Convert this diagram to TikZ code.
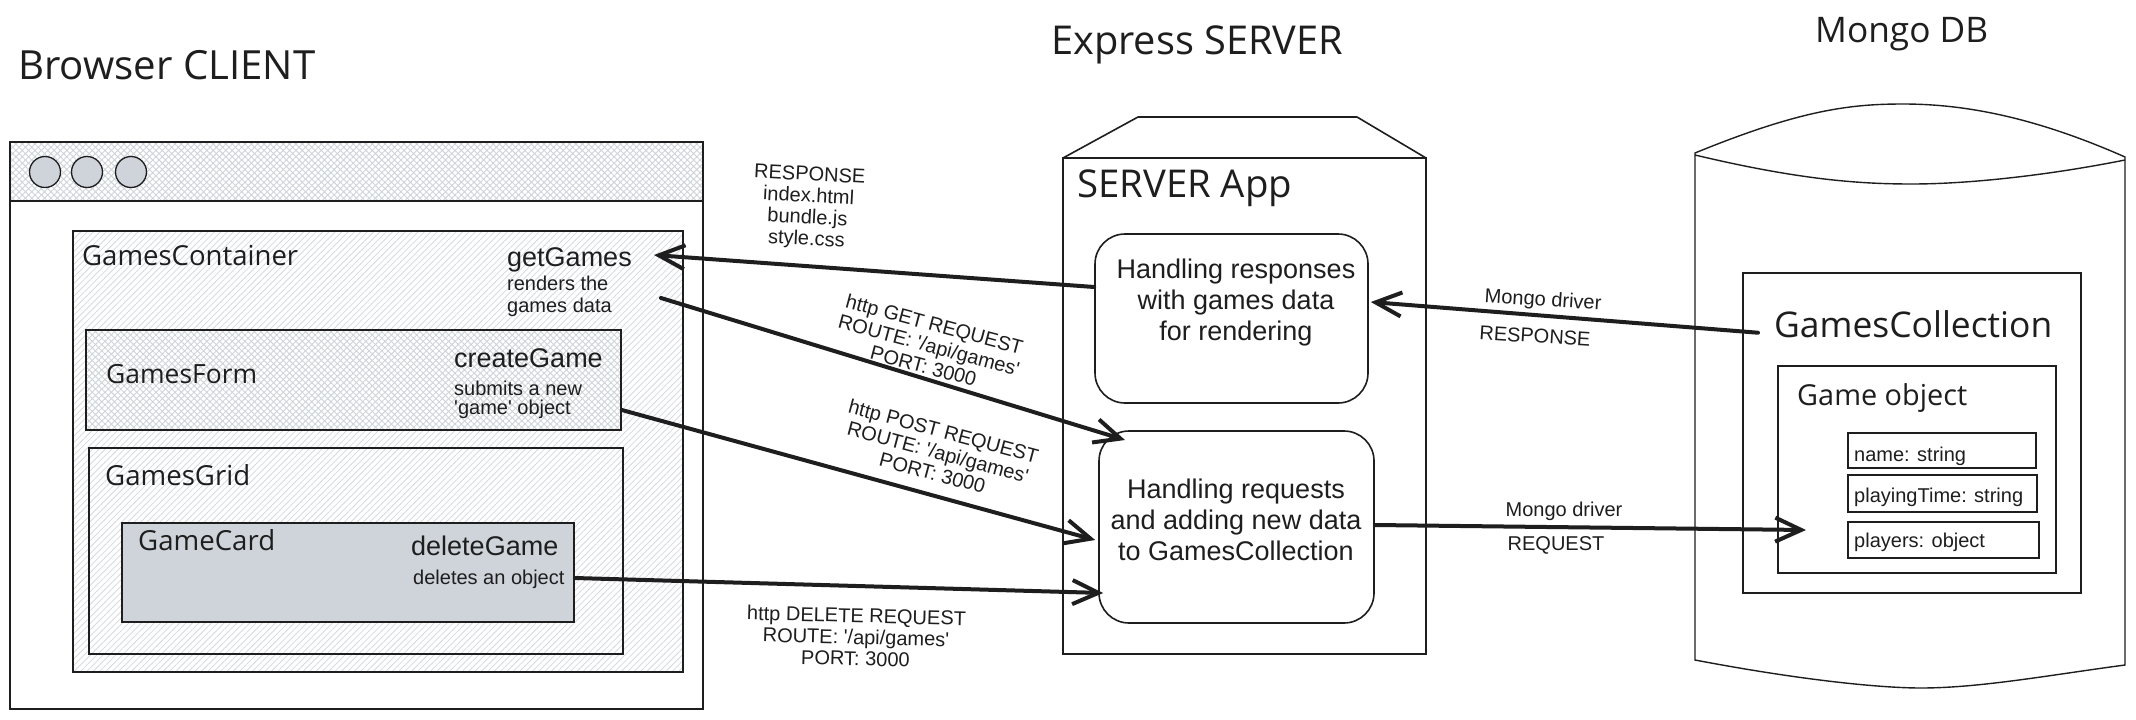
\documentclass[tikz,border=0pt]{standalone}
\usepackage{fontspec}
\setmainfont{Liberation Sans}
\newfontfamily\hwfont{Open Sans}
\usetikzlibrary{arrows.meta,patterns.meta}
\definecolor{ink}{HTML}{1E1E1E}
\definecolor{hatchc}{HTML}{CED4DA}
\definecolor{hatchl}{HTML}{D6DADF}
\definecolor{cardc}{HTML}{CED4DA}
\newcommand{\hw}[2]{\resizebox{#1pt}{!}{\hwfont #2}}
\newcommand{\fsz}[1]{\fontsize{#1}{#1}\selectfont}
\newcommand{\sq}{\XeTeXglyph\the\XeTeXcharglyph"0027\relax}
\begin{document}
\begin{tikzpicture}[x=1pt,y=-1pt,
  every node/.style={text=ink},
  rectbox/.style 2 args={draw=ink, line width=1.6pt, inner sep=0pt, minimum width=#1pt, minimum height=#2pt},
  crosshatch/.style={preaction={fill=white}, pattern={Hatch[angle=45,distance=4.5pt,line width=0.9pt]}, pattern color=hatchc},
  singlehatch/.style={preaction={fill=white}, pattern={Lines[angle=45,distance=4.5pt,line width=0.8pt]}, pattern color=hatchl},
  dot/.style={circle, draw=ink, line width=1.3pt, fill=hatchc, minimum size=31pt, inner sep=0pt},
  hwtext/.style={anchor=base west, inner sep=0pt},
  fn/.style={anchor=base west, inner sep=0pt, font=\fsz{27}},
  desc/.style={anchor=base west, inner sep=0pt, font=\fsz{20}},
  boxtext/.style={align=center, inner sep=0pt, font=\fontsize{27}{31}\selectfont},
  blocklabel/.style={align=center, inner sep=0pt, font=\fontsize{20}{21.5}\selectfont},
  smalllabel/.style={inner sep=0pt, font=\fsz{20}},
  dbline/.style={draw=ink, line width=1.4pt},
  conn/.style={draw=ink, line width=4pt, line cap=round, -{Straight Barb[length=26pt,width=24pt]}}
]
\fill[white] (0,0) rectangle (2136,720);
\useasboundingbox (0,0) rectangle (2136,720);

% ---------- CLIENT ----------
\node[hwtext] (tClient) at (18,79) {\hw{297}{Browser CLIENT}};
\node[rectbox={693}{567}] (browser) at (356.5,425.5) {};
\node[rectbox={693}{59}, crosshatch] (titlebar) at (356.5,171.5) {};
\node[dot] (dotA) at (45,172) {};
\node[dot] (dotB) at (87,172) {};
\node[dot] (dotC) at (131,172) {};
\node[rectbox={610}{441}, singlehatch] (container) at (378,451.5) {};
\node[hwtext] (lContainer) at (82,265) {\hw{216}{GamesContainer}};
\node[fn] (getGames) at (507,266) {getGames};
\node[desc] (getDescA) at (507,290) {renders the};
\node[desc] (getDescB) at (507,312) {games data};
\node[rectbox={535}{100}, crosshatch] (form) at (353.5,380) {};
\node[hwtext] (lForm) at (106,383) {\hw{151}{GamesForm}};
\node[fn] (createGame) at (454,367) {createGame};
\node[desc] (createDescA) at (454,395) {submits a new};
\node[desc] (createDescB) at (454,414) {\sq game\sq{} object};
\node[rectbox={534}{206}, singlehatch] (grid) at (356,551) {};
\node[hwtext] (lGrid) at (105,485) {\hw{145}{GamesGrid}};
\node[rectbox={452}{99}, fill=cardc] (card) at (348,572.5) {};
\node[hwtext] (lCard) at (138,550) {\hw{137}{GameCard}};
\node[fn] (deleteGame) at (411,555) {deleteGame};
\node[desc] (deleteDesc) at (413,584) {deletes an object};

% ---------- SERVER ----------
\node[hwtext] (tServer) at (1051,54) {\hw{292}{Express SERVER}};
\draw[draw=ink, line width=1.6pt, line join=round] (1063,158) -- (1138,117) -- (1357,117) -- (1426,158);
\node[rectbox={363}{496}] (server) at (1244.5,406) {};
\node[hwtext] (lServer) at (1077,197) {\hw{215}{SERVER App}};
\node[rectbox={273}{169}, rounded corners=30pt] (resp) at (1231.5,318.5) {};
\node[boxtext] (respText) at (1236,303) {Handling responses\\with games data\\for rendering};
\node[rectbox={275}{192}, rounded corners=30pt] (req) at (1236.5,527) {};
\node[boxtext] (reqText) at (1236,520) {Handling requests\\and adding new data\\to GamesCollection};

% ---------- DATABASE ----------
\node[hwtext] (tDB) at (1815,42) {\hw{173}{Mongo DB}};
\draw[dbline] (1695,153) .. controls (1800,110) and (1850,104) .. (1903,104)
  .. controls (1960,104) and (2030,115) .. (2125,157) -- (2125,665)
  .. controls (2050,675) and (1980,688) .. (1921,688)
  .. controls (1880,688) and (1800,680) .. (1695,660) -- cycle;
\draw[dbline] (1695,155) .. controls (1800,180) and (1860,184) .. (1912,184)
  .. controls (1970,184) and (2050,175) .. (2125,160);
\node[rectbox={338}{320}] (collection) at (1912,433) {};
\node[hwtext] (lCollection) at (1774,337) {\hw{278}{GamesCollection}};
\node[rectbox={278}{207}] (gameobj) at (1917,469.5) {};
\node[hwtext] (lGameObj) at (1797,405) {\hw{170}{Game object}};
\node[rectbox={188}{35}, line width=1.3pt] (fName) at (1942,450.5) {};
\node[rectbox={189}{37}, line width=1.3pt] (fTime) at (1942.5,493.5) {};
\node[rectbox={191}{36}, line width=1.3pt] (fPlayers) at (1943.5,540) {};
\node[desc] (tName) at (1854,461) {name: string};
\node[desc] (tTime) at (1854,502) {playingTime: string};
\node[desc] (tPlayers) at (1854,547) {players: object};

% ---------- CONNECTORS ----------
\coordinate (getTip) at (654,255);
\coordinate (getStart) at (661,298);
\coordinate (getEnd) at (1125,440);
\coordinate (reqTip) at (1806,530);
\draw[conn] ([yshift=31.5pt]resp.west) -- (getTip);
\draw[conn] (getStart) -- (getEnd);
\draw[conn] ([yshift=-30pt]form.east) -- ([xshift=-3pt,yshift=-13pt]req.west);
\draw[conn] ([yshift=-5.5pt]card.east) -- ([xshift=5pt,yshift=-66pt]req.west);
\draw[conn] ([xshift=-16pt,yshift=-9pt]lCollection.west) -- ([xshift=2pt,yshift=16.5pt]resp.east);
\draw[conn] ([yshift=2pt]req.east) -- (reqTip);

% ---------- CONNECTOR LABELS ----------
\node[blocklabel, rotate=-3] (lblResp) at (808,208) {RESPONSE\\index.html\\bundle.js\\style.css};
\node[blocklabel, rotate=-15] (lblGet) at (929,345) {http GET REQUEST\\ROUTE: \sq/api/games\sq\\PORT: 3000};
\node[blocklabel, rotate=-15] (lblPost) at (938,452) {http POST REQUEST\\ROUTE: \sq/api/games\sq\\PORT: 3000};
\node[blocklabel, rotate=-1.5] (lblDel) at (856,637) {http DELETE REQUEST\\ROUTE: \sq/api/games\sq\\PORT: 3000};
\node[smalllabel, rotate=-3.5] (lblMdA) at (1543,301) {Mongo driver};
\node[smalllabel, rotate=-3.5] (lblMrA) at (1535,336) {RESPONSE};
\node[smalllabel] (lblMdB) at (1564,511) {Mongo driver};
\node[smalllabel] (lblMrB) at (1556,545) {REQUEST};
\end{tikzpicture}
\end{document}
